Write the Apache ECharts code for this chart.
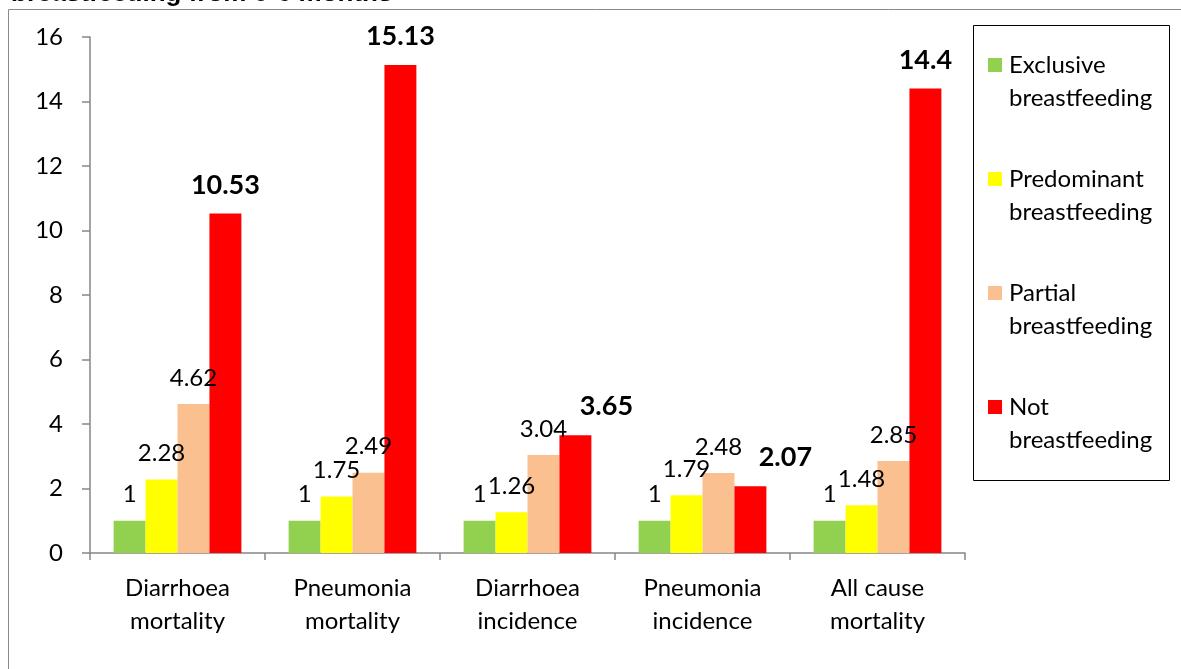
<!DOCTYPE html>
<html>
<head>
<meta charset="utf-8">
<script src="https://cdn.jsdelivr.net/npm/echarts@6/dist/echarts.min.js"></script>
<style>html,body{margin:0;padding:0;background:#fff}#c{width:1181px;height:669px}</style>
</head>
<body>
<div id="c"></div>
<script>
const categories = ['Diarrhoea\nmortality', 'Pneumonia\nmortality', 'Diarrhoea\nincidence', 'Pneumonia\nincidence', 'All cause\nmortality'];
const seriesNames = ['Exclusive\nbreastfeeding', 'Predominant\nbreastfeeding', 'Partial\nbreastfeeding', 'Not\nbreastfeeding'];
const exclusive = [1, 1, 1, 1, 1];
const predominant = [2.28, 1.75, 1.26, 1.79, 1.48];
const partial = [4.62, 2.49, 3.04, 2.48, 2.85];
const notBF = [10.53, 15.13, 3.65, 2.07, 14.4];
const yTicks = [0, 2, 4, 6, 8, 10, 12, 14, 16];
const titleText = 'breastfeeding from 0-6 months';

const colors = ['#92D050', '#FFFF00', '#FAC090', '#FF0000'];
const FONT = 'Lato';
const values = [exclusive, predominant, partial, notBF];
// labels manually nudged in the original to avoid overlap
const labelShift = {3: {2: [31, 0], 3: [35, 0]}};

const series = values.map((vals, si) => ({
  name: seriesNames[si],
  type: 'bar',
  barGap: '0%',
  barCategoryGap: '27%',
  itemStyle: {color: colors[si]},
  label: {
    show: true,
    position: 'top',
    distance: si === 3 ? 15 : 14,
    color: '#000',
    fontFamily: FONT,
    fontSize: si === 3 ? 27 : 24,
    fontWeight: si === 3 ? 'bold' : 'normal'
  },
  data: vals.map((v, i) => {
    const sh = labelShift[si] && labelShift[si][i];
    return sh ? {value: v, label: {offset: sh}} : v;
  })
}));

const chart = echarts.init(document.getElementById('c'));
chart.setOption({
  animation: false,
  title: {
    text: titleText, left: 6, top: -24,
    textStyle: {fontFamily: 'Liberation Sans', fontWeight: 'bold', fontSize: 26, color: '#000'}
  },
  graphic: [
    {type: 'rect', shape: {x: 8.5, y: 9.5, width: 1200, height: 700}, style: {fill: 'none', stroke: '#898989', lineWidth: 1}, z: -1},
    {type: 'rect', shape: {x: 973.5, y: 25.5, width: 196, height: 455}, style: {fill: '#fff', stroke: '#000', lineWidth: 1}, z: 0}
  ],
  legend: {
    orient: 'vertical',
    left: 988, top: 48.5,
    padding: 0,
    itemWidth: 14, itemHeight: 47,
    itemGap: 48,
    icon: 'path://M0,0h14v14h-14zM0,46.9h0.1v0.1h-0.1z',
    data: seriesNames,
    textStyle: {fontFamily: FONT, fontSize: 24, color: '#000', lineHeight: 33, padding: [0, 0, 0, 2]},
    z: 5
  },
  grid: {left: 90, right: 216, top: 37, bottom: 116},
  xAxis: {
    type: 'category',
    data: categories,
    axisLine: {lineStyle: {color: '#868686', width: 1.5}},
    axisTick: {show: true, length: 7, alignWithLabel: false, lineStyle: {color: '#868686', width: 1.5}},
    axisLabel: {fontFamily: FONT, fontSize: 24, color: '#000', lineHeight: 33, margin: 19, interval: 0}
  },
  yAxis: {
    type: 'value',
    min: 0, max: 16, interval: 2,
    axisLine: {show: true, lineStyle: {color: '#868686', width: 1.5}},
    axisTick: {show: true, length: 8, lineStyle: {color: '#868686', width: 1.5}},
    splitLine: {show: false},
    axisLabel: {fontFamily: FONT, fontSize: 24, color: '#000', margin: 27,
      formatter: v => yTicks.includes(v) ? String(v) : ''}
  },
  series: series
});
</script>
</body>
</html>
